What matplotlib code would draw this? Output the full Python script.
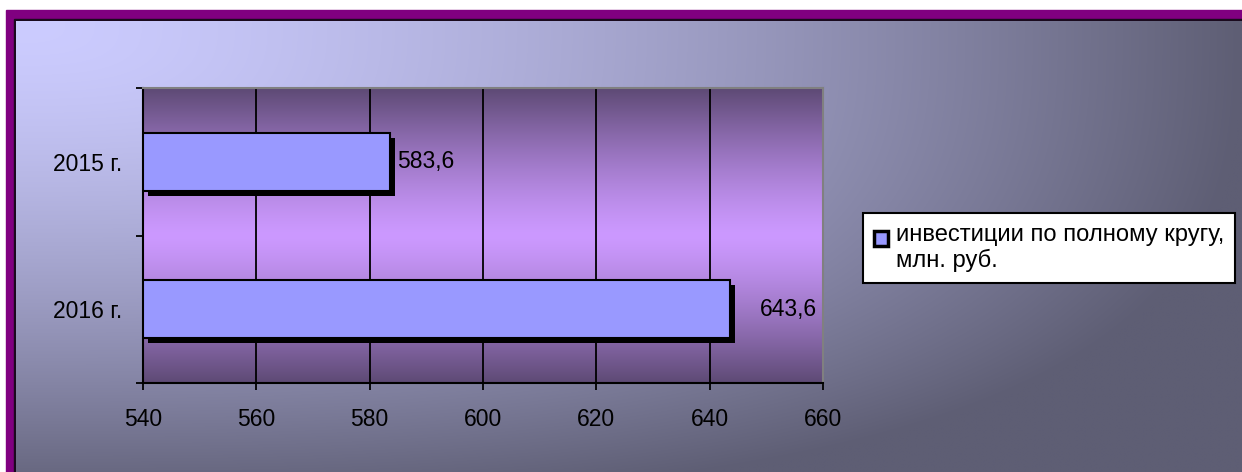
import matplotlib
matplotlib.use("Agg")
import matplotlib.pyplot as plt
import matplotlib.patheffects as pe
from matplotlib.patches import Rectangle
from matplotlib.legend_handler import HandlerPatch
import numpy as np

plt.rcParams["font.family"] = ["Liberation Sans", "DejaVu Sans"]

# data
years = ["2015 г.", "2016 г."]
investments = [583.6, 643.6]
value_labels = ["583,6", "643,6"]
label_offsets_px = [7, 30]
x_ticks = [540, 560, 580, 600, 620, 640, 660]
series_name = "инвестиции по полному кругу,\nмлн. руб."

W, H = 1242, 472
fig = plt.figure(figsize=(W / 100, H / 100), dpi=100)

# background frame: white, purple border, black line, diagonal gradient
bg = fig.add_axes([0, 0, 1, 1])
bg.axis("off")
bg.add_patch(Rectangle((0, 0), W, H, color="white", zorder=1))
bg.add_patch(Rectangle((6, 10), W, H, color="#800080", zorder=1))
bg.add_patch(Rectangle((14, 19), W, H, color="#1a0a1e", zorder=1))
u = np.linspace(0, 1, 400)[None, :]
v = np.linspace(0, 1, 200)[:, None]
t = np.clip(np.sqrt((u ** 1.45) ** 2 + (0.9 * v ** 1.5) ** 2), 0, 1)
light = np.array([204, 204, 255]) / 255
dark = np.array([94, 94, 116]) / 255
grad = light * (1 - t[..., None]) + dark * t[..., None]
bg.imshow(grad, extent=(16, W, H, 21), aspect="auto", interpolation="bilinear", zorder=2)
bg.set_xlim(0, W)
bg.set_ylim(H, 0)

# plot area
ax = fig.add_axes([143 / W, 1 - 383 / H, (823 - 143) / W, (383 - 88) / H])

s = np.abs(np.linspace(-1, 1, 200))[:, None] ** 1.3
p_light = np.array([204, 153, 255]) / 255
p_dark = np.array([94, 74, 117]) / 255
p_grad = p_light * (1 - s[..., None]) + p_dark * s[..., None]
ax.imshow(p_grad, extent=(540, 660, 1.5, -0.5), aspect="auto", zorder=0,
          interpolation="bilinear")

ypos = np.arange(len(years))
bars = ax.barh(ypos, [x - 540 for x in investments], left=540, height=0.39,
               color="#9999FF", edgecolor="black", linewidth=1.5, zorder=3)
for b in bars:
    b.set_path_effects([pe.SimplePatchShadow(offset=(3.6, -3.6), shadow_rgbFace="black", alpha=1),
                        pe.Normal()])

for y, val, txt, off in zip(ypos, investments, value_labels, label_offsets_px):
    ax.annotate(txt, xy=(val, y), xytext=(off * 0.72, 0), textcoords="offset points",
                ha="left", va="center", fontsize=16.5, color="black", zorder=4)

ax.set_xlim(540, 660)
ax.set_ylim(1.5, -0.5)
ax.set_xticks(x_ticks)
ax.set_yticks([-0.5, 0.5, 1.5])
ax.set_yticklabels([])
ax.set_yticks(ypos, minor=True)
ax.set_yticklabels(years, minor=True, fontsize=16.5)
ax.tick_params(axis="y", which="minor", length=0, pad=15)
ax.tick_params(axis="y", which="major", length=5, width=1.3, direction="out")
ax.tick_params(axis="x", length=5, width=1.3, direction="out", labelsize=16.5, pad=13)

ax.set_axisbelow(True)
ax.grid(axis="x", color="black", linewidth=1.3)
ax.grid(axis="y", visible=False)
for side in ("left", "bottom"):
    ax.spines[side].set_color("black")
    ax.spines[side].set_linewidth(1.5)
for side in ("top", "right"):
    ax.spines[side].set_color("#808080")
    ax.spines[side].set_linewidth(1.5)


def top_square(legend, orig_handle, xdescent, ydescent, width, height, fontsize):
    # square next to the first line of a two-line label
    return Rectangle((-xdescent, -ydescent + 0.4 * fontsize), width, height)


leg = fig.legend(handles=[bars[0]], labels=[series_name], loc="upper left",
                 bbox_to_anchor=(863 / W, 1 - 213 / H),
                 fontsize=17.1, frameon=True, fancybox=False, borderaxespad=0,
                 handlelength=0.6, handleheight=0.6, handletextpad=0.35,
                 borderpad=0.45, labelspacing=0.1,
                 handler_map={Rectangle: HandlerPatch(patch_func=top_square)})
leg.get_frame().set_edgecolor("black")
leg.get_frame().set_linewidth(1.5)
leg.get_frame().set_alpha(1)
for h in leg.legend_handles:
    h.set_facecolor("#9999FF")
    h.set_edgecolor("black")
    h.set_linewidth(2.5)
    h.set_path_effects([])

fig.savefig("out.png", dpi=100)
